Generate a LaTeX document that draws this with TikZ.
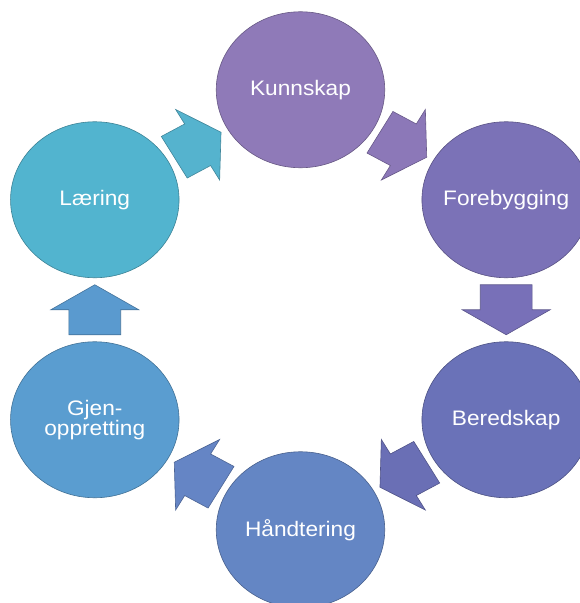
\documentclass[tikz,border=0pt]{standalone}
\usepackage{fontspec}
\setmainfont{Liberation Sans}[FakeStretch=1.08]
\usetikzlibrary{shapes.geometric,calc}
\definecolor{cK}{HTML}{8F7AB8}
\definecolor{cF}{HTML}{7B72B7}
\definecolor{cB}{HTML}{6A72B8}
\definecolor{cH}{HTML}{6486C4}
\definecolor{cG}{HTML}{5A9DD0}
\definecolor{cL}{HTML}{52B4CF}
\definecolor{aLK}{HTML}{55B3CE}
\definecolor{aKF}{HTML}{8C78B8}
\definecolor{aFB}{HTML}{7870B8}
\definecolor{aBH}{HTML}{6A6FB5}
\definecolor{aHG}{HTML}{6585C5}
\definecolor{aGL}{HTML}{5A9ACF}
\tikzset{
  stage/.style={ellipse, minimum width=168.5pt, minimum height=156pt,
    inner sep=-12pt, fill=#1, draw=#1!72!black, line width=0.6pt,
    text=white, font=\fontsize{21}{20}\selectfont, align=center},
  blockarr/.style={fill=#1, draw=#1!75!black, line width=0.6pt, line join=miter}
}
\newcommand\cyclearrow[4]{%
  \begin{scope}[shift={($(#1)!0.5!(#2)$)}, xscale=1.08, rotate=#3]
    \draw[blockarr=#4] (-25,24) -- (0,24) -- (0,40.75) -- (25,0)
      -- (0,-40.75) -- (0,-24) -- (-25,-24) -- cycle;
  \end{scope}}
\begin{document}
\begin{tikzpicture}[x=1pt,y=1pt]
  \useasboundingbox (-300.5,-293.25) rectangle (279.5,309.75);
  \clip (-300.5,-293.25) rectangle (279.5,309.75);
  \node[stage=cK] (K) at (0,220) {Kunnskap};
  \node[stage=cF] (F) at (205.7,110) {Forebygging};
  \node[stage=cB] (B) at (205.7,-110) {Beredskap};
  \node[stage=cH] (H) at (0,-220) {Håndtering};
  \node[stage=cG] (G) at (-205.7,-110) {Gjen-\\oppretting};
  \node[stage=cL] (L) at (-205.7,110) {Læring};
  \cyclearrow{L}{K}{30}{aLK}
  \cyclearrow{K}{F}{-30}{aKF}
  \cyclearrow{F}{B}{-90}{aFB}
  \cyclearrow{B}{H}{-150}{aBH}
  \cyclearrow{H}{G}{150}{aHG}
  \cyclearrow{G}{L}{90}{aGL}
\end{tikzpicture}
\end{document}
